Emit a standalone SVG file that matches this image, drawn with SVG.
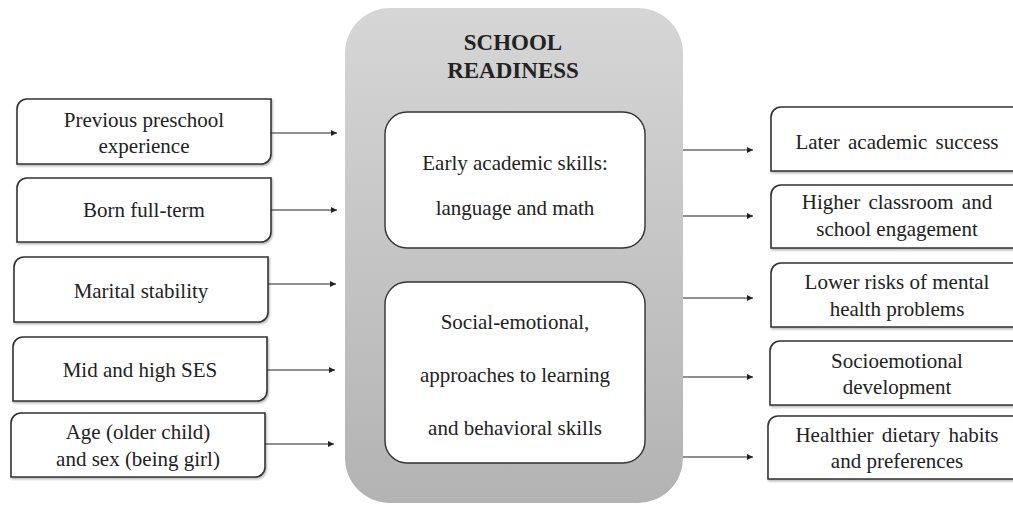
<svg xmlns="http://www.w3.org/2000/svg" width="1013" height="506" viewBox="0 0 1013 506">
<style>
.t{font-family:'Liberation Serif',Tinos,'Times New Roman',Times,serif;font-size:21px;fill:#222;text-anchor:middle}
.title{font-family:'Liberation Serif',Tinos,'Times New Roman',Times,serif;font-size:23px;font-weight:bold;fill:#222;text-anchor:middle}
.box{fill:#fff;stroke:#333;stroke-width:1.6;filter:url(#sh)}
.inner{fill:#fff;stroke:#333;stroke-width:1.4}
.conn{stroke:#222;stroke-width:1.2;fill:none;marker-end:url(#ah)}
</style>
<defs>
<linearGradient id="g" x1="0" y1="0" x2="0" y2="1">
<stop offset="0" stop-color="#d6d6d6"/>
<stop offset="1" stop-color="#b3b3b3"/>
</linearGradient>
<filter id="sh" x="-5%" y="-10%" width="110%" height="130%">
<feDropShadow dx="1" dy="1.5" stdDeviation="1" flood-color="#000" flood-opacity="0.3"/>
</filter>
<marker id="ah" viewBox="0 0 10 10" refX="10" refY="5" markerWidth="6" markerHeight="6" markerUnits="userSpaceOnUse" orient="auto">
<path d="M0,0 L10,5 L0,10 Z" fill="#222"/>
</marker>
</defs>

<g id="school-readiness">
<rect x="345" y="8" width="338" height="495" rx="45" fill="url(#g)"/>
<text class="title" x="513" y="50">SCHOOL</text>
<text class="title" x="513" y="78">READINESS</text>
</g>

<g id="early-academic">
<rect class="inner" x="385" y="112" width="260" height="136" rx="22"/>
<text class="t" x="515" y="170">Early academic skills:</text>
<text class="t" x="515" y="215">language and math</text>
</g>

<g id="social-emotional">
<rect class="inner" x="385" y="282" width="260" height="181" rx="22"/>
<text class="t" x="515" y="329">Social-emotional,</text>
<text class="t" x="515" y="382">approaches to learning</text>
<text class="t" x="515" y="435">and behavioral skills</text>
</g>

<g id="preschool">
<path class="box" d="M27,99 H271 V154 A10,10 0 0 1 261,164 H17 V109 A10,10 0 0 1 27,99 Z"/>
<text class="t" x="144" y="127">Previous preschool</text>
<text class="t" x="144" y="153">experience</text>
</g>
<g id="full-term">
<path class="box" d="M27,178 H271 V232 A10,10 0 0 1 261,242 H17 V188 A10,10 0 0 1 27,178 Z"/>
<text class="t" x="144" y="217">Born full-term</text>
</g>
<g id="marital">
<path class="box" d="M24,257 H268 V312 A10,10 0 0 1 258,322 H14 V267 A10,10 0 0 1 24,257 Z"/>
<text class="t" x="141" y="298">Marital stability</text>
</g>
<g id="ses">
<path class="box" d="M23,337 H267 V391 A10,10 0 0 1 257,401 H13 V347 A10,10 0 0 1 23,337 Z"/>
<text class="t" x="140" y="377">Mid and high SES</text>
</g>
<g id="age-sex">
<path class="box" d="M21,413 H265 V467 A10,10 0 0 1 255,477 H11 V423 A10,10 0 0 1 21,413 Z"/>
<text class="t" x="138" y="439">Age (older child)</text>
<text class="t" x="138" y="466">and sex (being girl)</text>
</g>

<g id="later-academic">
<path class="box" d="M781,107 H1030 V171 H771 V117 A10,10 0 0 1 781,107 Z"/>
<text class="t" x="897" y="149" word-spacing="3">Later academic success</text>
</g>
<g id="engagement">
<path class="box" d="M781,185 H1030 V248 H771 V195 A10,10 0 0 1 781,185 Z"/>
<text class="t" x="897" y="209" word-spacing="3">Higher classroom and</text>
<text class="t" x="897" y="236">school engagement</text>
</g>
<g id="mental-health">
<path class="box" d="M781,263 H1030 V327 H771 V273 A10,10 0 0 1 781,263 Z"/>
<text class="t" x="897" y="289">Lower risks of mental</text>
<text class="t" x="897" y="316">health problems</text>
</g>
<g id="socioemotional">
<path class="box" d="M780,341 H1030 V405 H770 V351 A10,10 0 0 1 780,341 Z"/>
<text class="t" x="897" y="368">Socioemotional</text>
<text class="t" x="897" y="394">development</text>
</g>
<g id="dietary">
<path class="box" d="M778,416 H1030 V479 H768 V426 A10,10 0 0 1 778,416 Z"/>
<text class="t" x="897" y="442" word-spacing="3">Healthier dietary habits</text>
<text class="t" x="897" y="468">and preferences</text>
</g>

<g id="connectors">
<line class="conn" x1="271" y1="133" x2="337" y2="133"/>
<line class="conn" x1="271" y1="210" x2="337" y2="210"/>
<line class="conn" x1="268" y1="284" x2="336" y2="284"/>
<line class="conn" x1="267" y1="370" x2="335" y2="370"/>
<line class="conn" x1="265" y1="444" x2="334" y2="444"/>
<line class="conn" x1="683" y1="150" x2="753" y2="150"/>
<line class="conn" x1="683" y1="216" x2="753" y2="216"/>
<line class="conn" x1="683" y1="298" x2="753" y2="298"/>
<line class="conn" x1="683" y1="377" x2="753" y2="377"/>
<line class="conn" x1="683" y1="457" x2="753" y2="457"/>
</g>
</svg>
